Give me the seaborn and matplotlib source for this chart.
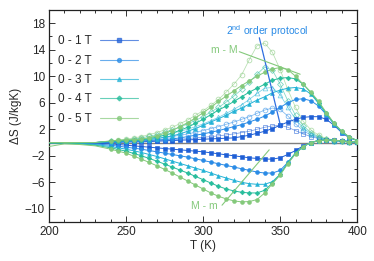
import matplotlib
matplotlib.use("Agg")
import matplotlib.pyplot as plt
from matplotlib.lines import Line2D
from matplotlib.ticker import MultipleLocator, FixedLocator
import seaborn as sns

T = [200, 210, 220, 230, 240, 245, 250, 255, 260, 265, 270, 275, 280, 285, 290, 295,
     300, 305, 310, 315, 320, 325, 330, 335, 340, 345, 350, 355, 360, 365, 370, 375,
     380, 385, 390, 395, 400]

fields = ["0 - 1 T", "0 - 2 T", "0 - 3 T", "0 - 4 T", "0 - 5 T"]
colors = ["#1f5fd6", "#2a8be6", "#22b2d6", "#27bd9c", "#84c97b"]
markers = ["s", "o", "^", "D", "o"]

# M - m (negative branch)
neg_1T = [0, 0, 0, -0.1, -0.2, -0.3, -0.4, -0.5, -0.6, -0.7, -0.8, -0.9, -1.0, -1.1, -1.2, -1.3,
          -1.4, -1.55, -1.7, -1.85, -2.0, -2.15, -2.3, -2.4, -2.5, -2.5, -2.3, -1.8, -1.2, -0.5, 0.0, 0.3,
          0.4, 0.35, 0.25, 0.15, 0.1]
neg_2T = [0, 0, -0.1, -0.2, -0.4, -0.55, -0.7, -0.85, -1.0, -1.2, -1.4, -1.6, -1.8, -2.0, -2.2, -2.45,
          -2.7, -2.95, -3.2, -3.45, -3.7, -3.95, -4.2, -4.45, -4.6, -4.6, -4.2, -3.0, -1.6, -0.6, 0.0, 0.3,
          0.4, 0.35, 0.25, 0.15, 0.1]
neg_3T = [0, -0.05, -0.15, -0.3, -0.6, -0.8, -1.0, -1.25, -1.5, -1.8, -2.1, -2.45, -2.8, -3.15, -3.5, -3.85,
          -4.2, -4.6, -5.0, -5.35, -5.7, -6.0, -6.2, -6.3, -6.3, -5.9, -4.8, -3.0, -1.6, -0.6, 0.0, 0.3,
          0.4, 0.35, 0.25, 0.15, 0.1]
neg_4T = [-0.1, -0.1, -0.2, -0.4, -0.8, -1.05, -1.3, -1.65, -2.0, -2.4, -2.8, -3.25, -3.7, -4.15, -4.6, -5.1,
          -5.6, -6.1, -6.6, -7.0, -7.3, -7.5, -7.6, -7.6, -7.2, -6.1, -4.8, -3.1, -1.6, -0.6, 0.0, 0.3,
          0.4, 0.35, 0.25, 0.15, 0.1]
neg_5T = [-0.6, -0.2, -0.3, -0.5, -1.0, -1.3, -1.6, -2.05, -2.5, -3.0, -3.5, -4.05, -4.6, -5.2, -5.8, -6.4,
          -7.0, -7.6, -8.1, -8.5, -8.8, -8.95, -8.9, -8.6, -7.6, -6.2, -4.9, -3.2, -1.7, -0.6, 0.0, 0.3,
          0.4, 0.35, 0.25, 0.15, 0.1]

# m - M (positive branch)
pos_1T = [0, 0, 0, 0, 0.05, 0.05, 0.1, 0.1, 0.1, 0.15, 0.2, 0.25, 0.3, 0.35, 0.4, 0.45,
          0.5, 0.55, 0.6, 0.65, 0.7, 0.9, 1.1, 1.4, 1.7, 2.1, 2.6, 3.1, 3.5, 3.8, 3.9, 3.9,
          3.5, 2.6, 1.5, 0.7, 0.3]
pos_2T = [0, 0, 0, 0, 0.1, 0.1, 0.15, 0.2, 0.25, 0.3, 0.4, 0.45, 0.55, 0.7, 0.9, 1.1,
          1.3, 1.55, 1.8, 2.1, 2.4, 2.7, 3.1, 3.5, 4.0, 4.6, 5.3, 6.0, 6.5, 6.6, 6.3, 5.5,
          4.2, 2.8, 1.6, 0.8, 0.3]
pos_3T = [0, 0, 0, 0, 0.15, 0.2, 0.25, 0.3, 0.35, 0.45, 0.6, 0.8, 1.0, 1.3, 1.7, 2.1,
          2.6, 3.1, 3.6, 4.1, 4.7, 5.2, 5.8, 6.4, 6.9, 7.5, 7.9, 8.2, 8.3, 8.1, 7.3, 5.9,
          4.3, 2.8, 1.6, 0.8, 0.3]
pos_4T = [0, 0, 0, 0, 0.2, 0.25, 0.3, 0.35, 0.4, 0.6, 0.8, 1.1, 1.4, 1.85, 2.3, 2.9,
          3.5, 4.2, 4.9, 5.5, 6.2, 6.9, 7.6, 8.2, 8.8, 9.4, 9.7, 9.8, 9.6, 8.8, 7.5, 6.0,
          4.4, 2.9, 1.7, 0.8, 0.3]
pos_5T = [0, 0, 0, 0, 0.25, 0.35, 0.4, 0.45, 0.5, 0.75, 1.0, 1.4, 1.8, 2.4, 3.0, 3.7,
          4.5, 5.3, 6.2, 7.0, 7.8, 8.6, 9.3, 10.0, 10.6, 11.1, 11.3, 11.0, 10.0, 8.8, 7.6, 6.2,
          4.5, 2.9, 1.7, 0.8, 0.3]

# 2nd order protocol (open symbols)
sec_1T = [0, 0, 0, 0, 0.05, 0.1, 0.1, 0.15, 0.2, 0.25, 0.3, 0.35, 0.4, 0.5, 0.6, 0.7,
          0.8, 0.9, 1.0, 1.15, 1.3, 1.5, 1.7, 2.0, 2.3, 2.5, 2.6, 2.3, 1.8, 1.3, 0.9, 0.6,
          0.4, 0.3, 0.2, 0.1, 0.1]
sec_2T = [0, 0, 0, 0, 0.1, 0.15, 0.2, 0.3, 0.4, 0.5, 0.6, 0.75, 0.9, 1.1, 1.3, 1.55,
          1.8, 2.1, 2.4, 2.75, 3.1, 3.5, 3.9, 4.4, 4.9, 5.2, 5.0, 4.0, 2.8, 1.8, 1.1, 0.7,
          0.4, 0.3, 0.2, 0.1, 0.1]
sec_3T = [0, 0, 0, 0, 0.1, 0.2, 0.3, 0.4, 0.5, 0.7, 0.9, 1.15, 1.4, 1.7, 2.0, 2.4,
          2.8, 3.3, 3.8, 4.4, 5.0, 5.7, 6.5, 7.4, 8.2, 8.3, 7.2, 5.3, 3.5, 2.2, 1.3, 0.8,
          0.5, 0.3, 0.2, 0.1, 0.1]
sec_4T = [0, 0, 0, 0, 0.2, 0.3, 0.4, 0.55, 0.7, 0.95, 1.2, 1.55, 1.9, 2.35, 2.8, 3.35,
          3.9, 4.6, 5.3, 6.1, 7.0, 8.0, 9.1, 10.3, 11.4, 10.9, 8.8, 6.3, 4.1, 2.5, 1.5, 0.9,
          0.5, 0.3, 0.2, 0.1, 0.1]
sec_5T = [0, 0, 0, 0, 0.2, 0.35, 0.5, 0.7, 0.9, 1.2, 1.5, 1.9, 2.3, 2.85, 3.4, 4.1,
          4.8, 5.6, 6.5, 7.6, 8.8, 10.2, 12.5, 14.6, 15.0, 13.6, 11.0, 8.0, 5.3, 3.2, 1.9, 1.1,
          0.6, 0.4, 0.2, 0.1, 0.1]

neg = [neg_1T, neg_2T, neg_3T, neg_4T, neg_5T]
pos = [pos_1T, pos_2T, pos_3T, pos_4T, pos_5T]
sec = [sec_1T, sec_2T, sec_3T, sec_4T, sec_5T]

sns.set_theme(style="ticks")
plt.rcParams["font.family"] = ["Liberation Sans", "DejaVu Sans"]
plt.rcParams["mathtext.fontset"] = "custom"
plt.rcParams["mathtext.rm"] = "Liberation Sans"
plt.rcParams["mathtext.it"] = "Liberation Sans"

fig = plt.figure(figsize=(3.74, 2.61), dpi=100)
ax = fig.add_axes([0.131, 0.149, 0.824, 0.813])

ax.axhline(0, color="#7f7f7f", lw=1.0, zorder=1)

mk = list(range(4, len(T)))
for i in range(5):
    c = colors[i]
    ms = 2.8 if markers[i] != "D" else 2.4
    # 2nd-order protocol, open symbols
    sns.lineplot(x=T, y=sec[i], ax=ax, sort=False, estimator=None, color=c, lw=0.55, alpha=0.6,
                 marker=markers[i], markersize=ms + 0.6, markevery=mk,
                 markerfacecolor="none", markeredgecolor=c, markeredgewidth=0.6, zorder=2)
    # m - M and M - m, filled symbols with fit lines
    for vals in (pos[i], neg[i]):
        sns.lineplot(x=T, y=vals, ax=ax, sort=False, estimator=None, color=c, lw=0.7,
                     marker=markers[i], markersize=ms, markevery=mk,
                     markerfacecolor=c, markeredgecolor=c, markeredgewidth=0.4, zorder=3)

# annotations
ax.text(341.5, 16.8, r"2$^{\mathregular{nd}}$ order protocol", color="#2a8be6", fontsize=7.5,
        ha="center", va="center")
ax.plot([336.5, 350.6], [15.8, 2.2], color="#2f6fe0", lw=0.9, zorder=4)
ax.text(314, 14.0, "m - M", color="#84c97b", fontsize=7.5, ha="center", va="center")
ax.plot([323.5, 363], [13.7, 10.3], color="#84c97b", lw=0.8, zorder=4)
ax.text(301, -9.6, "M - m", color="#84c97b", fontsize=7.5, ha="center", va="center")
ax.plot([312.3, 342.9], [-9.45, -1.1], color="#84c97b", lw=0.8, zorder=4)

ax.set_xlim(200, 400)
ax.set_ylim(-12, 20)
ax.xaxis.set_major_locator(FixedLocator([200, 250, 300, 350, 400]))
ax.xaxis.set_minor_locator(MultipleLocator(10))
ax.yaxis.set_major_locator(FixedLocator([-10, -6, -2, 2, 6, 10, 14, 18]))
ax.yaxis.set_minor_locator(MultipleLocator(2))
ax.tick_params(which="both", direction="in", top=True, right=True, labelsize=8.5,
               color="#333333", width=0.7, pad=3)
ax.tick_params(which="major", length=4)
ax.tick_params(which="minor", length=2.5)
for s in ax.spines.values():
    s.set_linewidth(0.9)
    s.set_color("#222222")

ax.set_xlabel("T (K)", fontsize=8.5, labelpad=1)
ax.set_ylabel("ΔS (J/kgK)", fontsize=8.5, labelpad=2)

handles = []
for i in range(5):
    handles.append(Line2D([0], [0], color=colors[i], lw=0.8, alpha=0.7, marker=markers[i],
                          markersize=2.8 if markers[i] != "D" else 2.4,
                          markerfacecolor=colors[i], markeredgecolor=colors[i]))
ax.legend(handles, fields, loc="upper left", bbox_to_anchor=(0.03, 0.88), frameon=False,
          markerfirst=False, fontsize=8.5, handlelength=3.2, handletextpad=0.7,
          labelspacing=0.62, borderaxespad=0, borderpad=0, numpoints=1)

fig.savefig("out.png", dpi=100)
